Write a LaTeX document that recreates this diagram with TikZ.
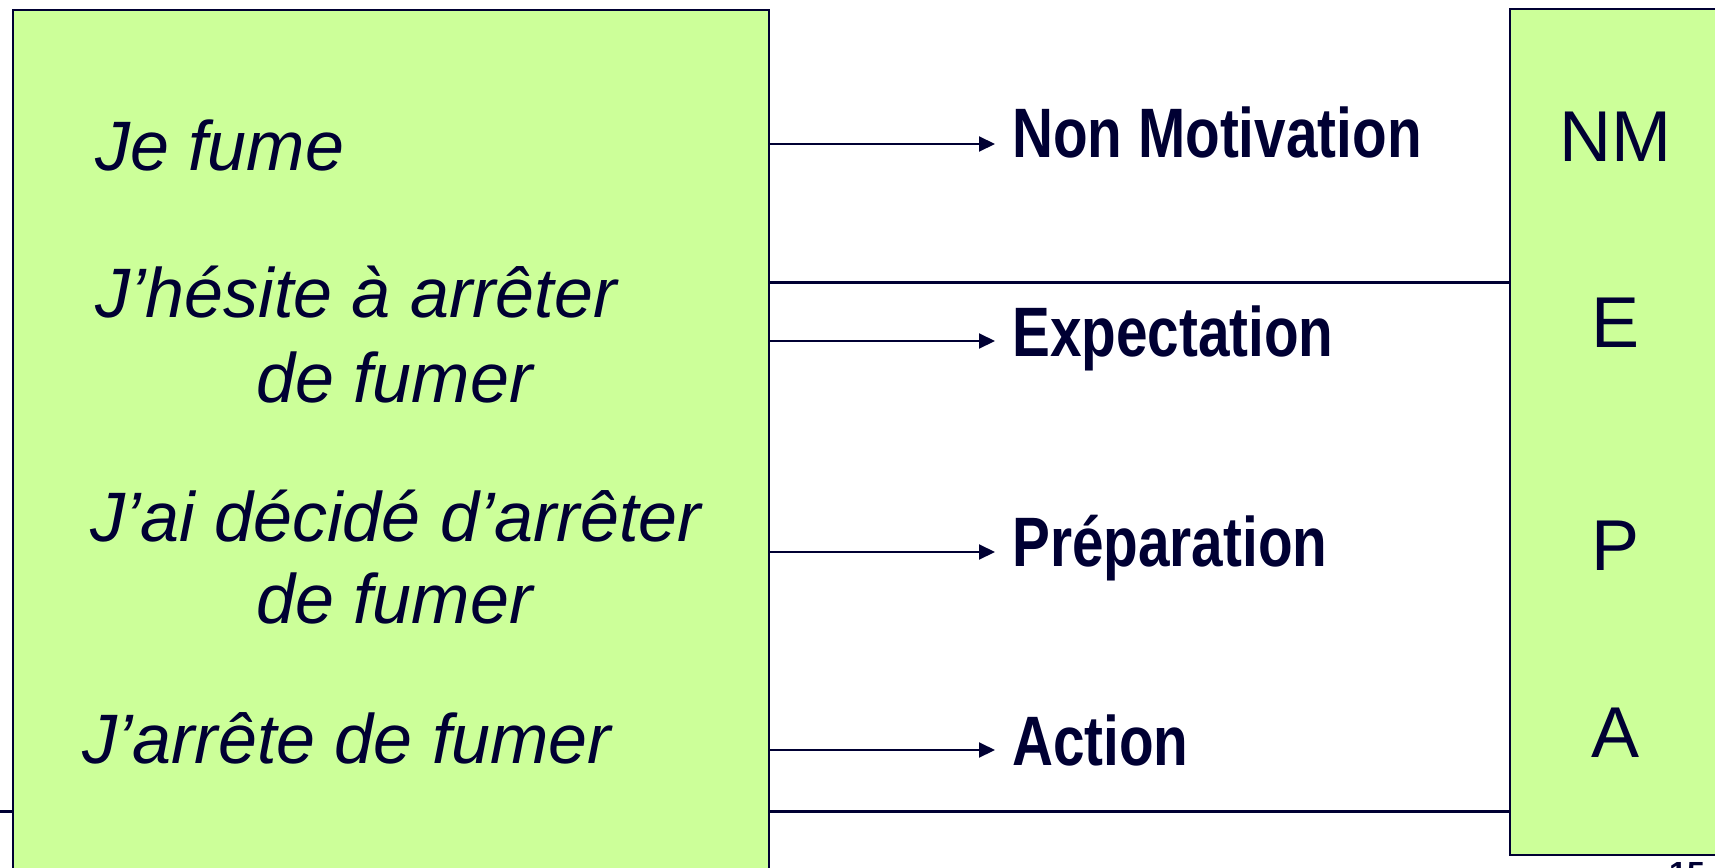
\documentclass[tikz,border=0pt]{standalone}
\usepackage{fontspec}
\setmainfont{Liberation Sans}
\newfontfamily\stagefont[FakeStretch=0.81]{Liberation Sans}
\usetikzlibrary{arrows.meta}
\definecolor{leaf}{RGB}{204,255,153}
\definecolor{ink}{RGB}{0,0,51}

\tikzset{
	panel/.style={draw=ink, line width=2pt, fill=leaf, inner sep=0pt, anchor=north west},
	flow/.style={draw=ink, line width=2pt, -{Triangle[length=16pt,width=15pt]}},
	says/.style={anchor=base west, inner sep=0pt, text=ink, font=\fontsize{70}{82}\selectfont\itshape},
	stage/.style={anchor=base west, inner sep=0pt, text=ink, font=\stagefont\fontsize{70}{84}\selectfont\bfseries},
	initial/.style={anchor=base, inner sep=0pt, text=ink, font=\fontsize{72}{86}\selectfont},
}

\begin{document}
\begin{tikzpicture}[x=1pt, y=-1pt]
				%%%%% START %%%%%
				\useasboundingbox (0,0) rectangle (1715,867);
				\clip (0,0) rectangle (1715,867);
				
				\draw[ink, line width=3pt] (0,811) -- (1509,811);
				
				\node[panel, minimum width=756pt, minimum height=900pt] (say) at (12,9) {};
				\node[panel, minimum width=240pt, minimum height=846pt] (abbr) at (1509,8) {};
				
				\coordinate (cut) at (0,282);
				\draw[ink, line width=3pt] (say.east |- cut) -- (abbr.west |- cut);
				
				\node[says] (je) at (95,170) {Je fume};
				\node[says] (hes) at (95,317) {J’hésite à arrêter};
				\node[says] (hesb) at (256,402) {de fumer};
				\node[says] (dec) at (90,541) {J’ai décidé d’arrêter};
				\node[says] (decb) at (256,623) {de fumer};
				\node[says] (arr) at (82,763) {J’arrête de fumer};
				
				\coordinate (tnm) at (995,144);
				\coordinate (texp) at (995,341);
				\coordinate (tprep) at (995,552);
				\coordinate (tact) at (995,750);
				\draw[flow] (say.east |- tnm) -- (tnm);
				\draw[flow] (say.east |- texp) -- (texp);
				\draw[flow] (say.east |- tprep) -- (tprep);
				\draw[flow] (say.east |- tact) -- (tact);
				
				\node[stage] (nm) at (1012,157) {Non Motivation};
				\node[stage] (exp) at (1012,356) {Expectation};
				\node[stage] (prep) at (1012,566) {Préparation};
				\node[stage] (act) at (1012,765) {Action};
				
				\node[initial] (lnm) at (1615,161) {NM};
				\node[initial] (le) at (1615,347) {E};
				\node[initial] (lp) at (1615,570) {P};
				\node[initial] (la) at (1615,757) {A};
				
				\node[anchor=north, inner sep=0pt, text=ink, font=\fontsize{32}{36}\selectfont\bfseries] (page) at (1687,862) {15};
				%%%%% END %%%%%
\end{tikzpicture}
\end{document}
